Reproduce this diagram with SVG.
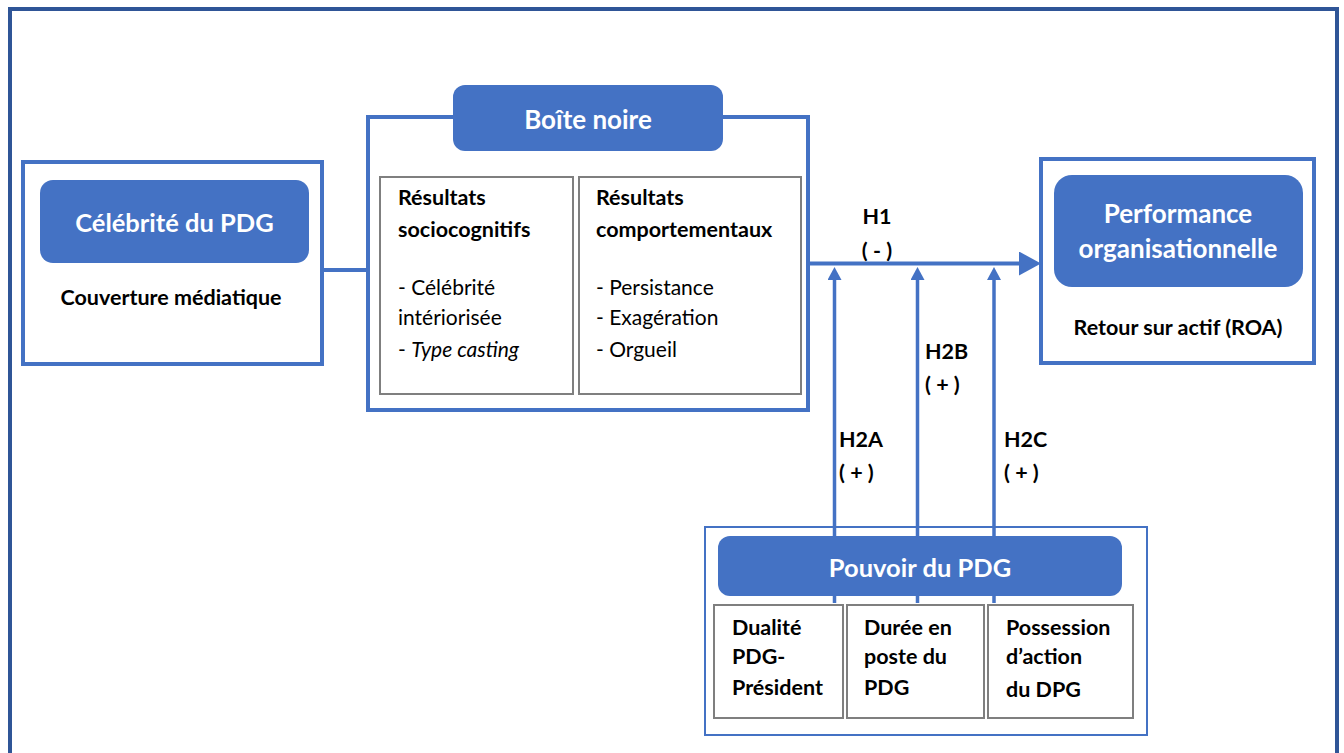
<svg xmlns="http://www.w3.org/2000/svg" width="1344" height="753" viewBox="0 0 1344 753">
<defs>
<style>
text{font-family:Lato,"Open Sans","Liberation Sans",sans-serif;}
.frame{fill:#fff;stroke:#4472C4;stroke-width:4;}
.thin{fill:none;stroke:#4472C4;stroke-width:2;}
.sub{fill:#fff;stroke:#7F7F7F;stroke-width:2;}
.hdr{fill:#4472C4;}
.ht{fill:#fff;font-weight:700;text-anchor:middle;}
.b{font-weight:700;fill:#000;font-size:21.5px;}
.r{font-weight:400;fill:#000;font-size:21px;}
.c{text-anchor:middle;}
.conn{stroke:#4472C4;fill:none;}
</style>
<marker id="hArrow" markerUnits="userSpaceOnUse" markerWidth="22" markerHeight="24" refX="0" refY="12" orient="auto">
<path d="M0,0 L22,12 L0,24 z" fill="#4472C4"/>
</marker>
<marker id="vArrow" markerUnits="userSpaceOnUse" markerWidth="13" markerHeight="14" refX="0" refY="7" orient="auto">
<path d="M0,0 L13,7 L0,14 z" fill="#4472C4"/>
</marker>
</defs>
<rect width="1344" height="753" fill="#fff"/>
<rect id="outer-frame" x="10" y="9" width="1327" height="770" fill="none" stroke="#2F5597" stroke-width="4"/>

<g id="connectors">
<line class="conn" x1="322" y1="270" x2="368" y2="270" stroke-width="4"/>
<line class="conn" x1="808" y1="263.5" x2="1019" y2="263.5" stroke-width="4" marker-end="url(#hArrow)"/>
<line class="conn" x1="834.5" y1="603" x2="834.5" y2="280" stroke-width="3.5" marker-end="url(#vArrow)"/>
<line class="conn" x1="917.5" y1="603" x2="917.5" y2="280" stroke-width="3.5" marker-end="url(#vArrow)"/>
<line class="conn" x1="994" y1="603" x2="994" y2="280" stroke-width="3.5" marker-end="url(#vArrow)"/>
<text class="b c" x="877" y="224" font-size="19.5">H1</text>
<text class="b c" x="877" y="258" font-size="20">( - )</text>
<text class="b" x="925" y="359" font-size="19.5">H2B</text>
<text class="b" x="925" y="392" font-size="20">( + )</text>
<text class="b" x="839" y="447" font-size="19.5">H2A</text>
<text class="b" x="839" y="480" font-size="20">( + )</text>
<text class="b" x="1004" y="447" font-size="19.5">H2C</text>
<text class="b" x="1004" y="480" font-size="20">( + )</text>
</g>

<g id="celebrite">
<rect class="frame" x="23" y="162" width="299" height="202"/>
<rect class="hdr" x="40" y="180" width="269" height="83" rx="13"/>
<text class="ht" x="174.5" y="232" font-size="25.5">Célébrité du PDG</text>
<text class="b c" x="171" y="305" font-size="22">Couverture médiatique</text>
</g>

<g id="boite-noire">
<rect class="frame" x="368" y="117" width="440" height="293"/>
<rect class="hdr" x="453" y="85" width="270" height="66" rx="12"/>
<text class="ht" x="588" y="129" font-size="26">Boîte noire</text>
<rect class="sub" x="380" y="177" width="193" height="217"/>
<rect class="sub" x="579" y="177" width="222" height="217"/>
<text class="b" x="398" y="205">Résultats</text>
<text class="b" x="398" y="237">sociocognitifs</text>
<text class="r" x="398" y="295">- Célébrité</text>
<text class="r" x="398" y="325">intériorisée</text>
<text class="r" x="398" y="357">- <tspan font-style="italic">Type casting</tspan></text>
<text class="b" x="596" y="205">Résultats</text>
<text class="b" x="596" y="237">comportementaux</text>
<text class="r" x="596" y="295">- Persistance</text>
<text class="r" x="596" y="325">- Exagération</text>
<text class="r" x="596" y="357">- Orgueil</text>
</g>

<g id="performance">
<rect class="frame" x="1041" y="159" width="273" height="204"/>
<rect class="hdr" x="1054" y="175" width="249" height="112" rx="18"/>
<text class="ht" x="1178" y="223" font-size="26">Performance</text>
<text class="ht" x="1178" y="258" font-size="26">organisationnelle</text>
<text class="b c" x="1178" y="335" font-size="20.5">Retour sur actif (ROA)</text>
</g>

<g id="pouvoir">
<rect class="thin" x="705" y="527" width="442" height="208"/>
<rect class="hdr" x="718" y="536" width="404" height="60" rx="12"/>
<text class="ht" x="920" y="577" font-size="25.5">Pouvoir du PDG</text>
<rect class="sub" x="714" y="605" width="129" height="113"/>
<rect class="sub" x="847" y="605" width="137" height="113"/>
<rect class="sub" x="988" y="605" width="145" height="113"/>
<text class="b" x="732" y="635">Dualité</text>
<text class="b" x="732" y="664">PDG-</text>
<text class="b" x="732" y="695">Président</text>
<text class="b" x="864" y="635">Durée en</text>
<text class="b" x="864" y="664">poste du</text>
<text class="b" x="864" y="695">PDG</text>
<text class="b" x="1006" y="635">Possession</text>
<text class="b" x="1006" y="664">d’action</text>
<text class="b" x="1006" y="697">du DPG</text>
</g>
</svg>
